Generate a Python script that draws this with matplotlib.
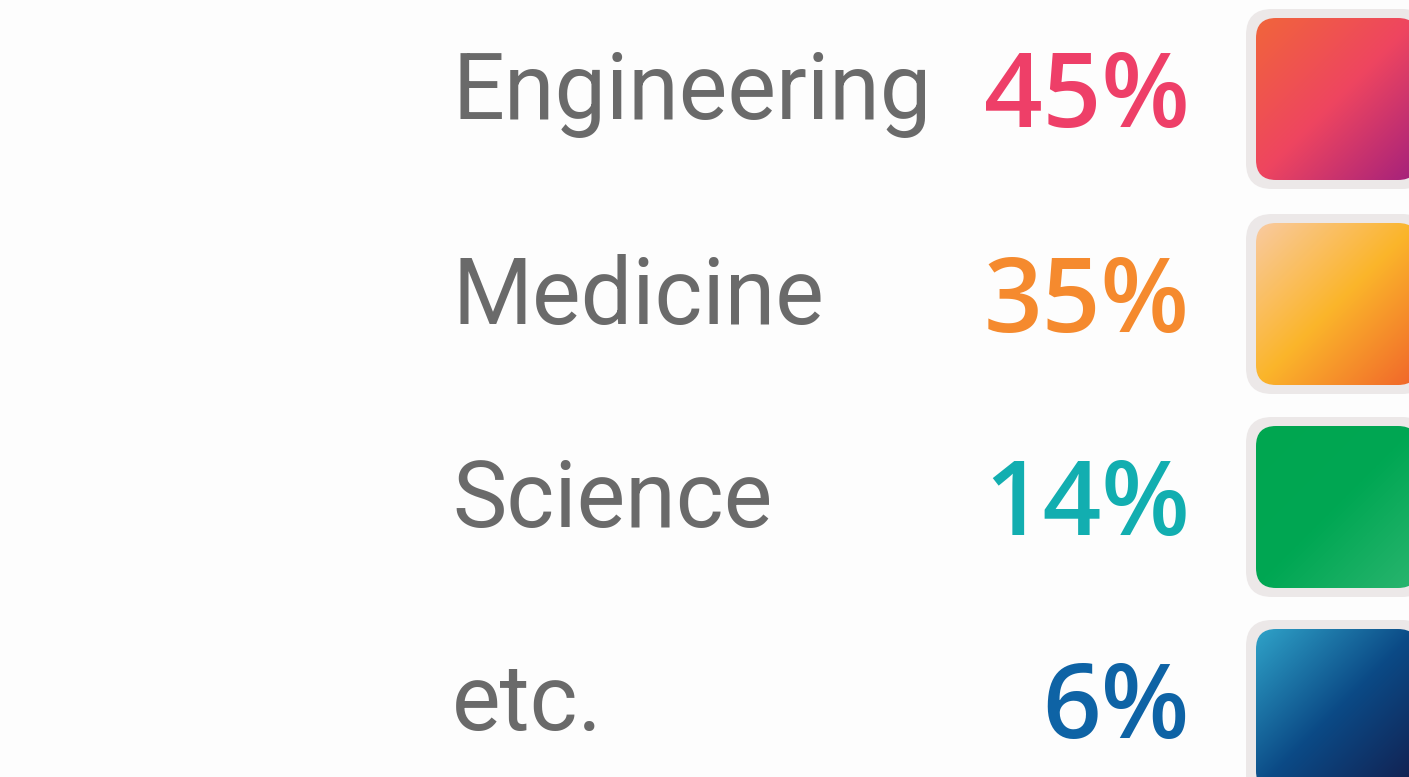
import numpy as np
import matplotlib.pyplot as plt
from matplotlib.patches import FancyBboxPatch
from matplotlib.colors import LinearSegmentedColormap

labels = ['Engineering', 'Medicine', 'Science', 'etc.']
values = [45, 35, 14, 6]
pct_colors = ['#ee3f68', '#f58a2e', '#12aeb0', '#0e63a5']
grad_stops = [
    ['#f1653b', '#ee4560', '#a3207c'],
    ['#f9caa0', '#fbb52a', '#f0642b'],
    ['#00a650', '#00a753', '#2ab56f'],
    ['#2fa2c8', '#0b4a86', '#131d4c'],
]

W, H = 1409, 777
fig = plt.figure(figsize=(W / 100, H / 100), dpi=100)
ax = fig.add_axes([0, 0, 1, 1])
ax.set_xlim(0, W)
ax.set_ylim(H, 0)
ax.axis('off')
fig.patch.set_facecolor('#fdfdfd')

row_top = [18, 223, 426, 629]
box = 162
x0 = 1256

for i in range(len(labels)):
    y0 = row_top[i]
    # outer light frame
    frame = FancyBboxPatch((x0 - 10, y0 - 9), box + 20, box + 18,
                           boxstyle='round,pad=0,rounding_size=26',
                           fc='#ece8e8', ec='none', zorder=1)
    ax.add_patch(frame)
    # gradient square
    clip = FancyBboxPatch((x0, y0), box, box,
                          boxstyle='round,pad=0,rounding_size=20',
                          fc='none', ec='none', zorder=2)
    ax.add_patch(clip)
    n = 200
    gx, gy = np.meshgrid(np.linspace(0, 1, n), np.linspace(0, 1, n))
    g = (gx + gy) / 2
    cmap = LinearSegmentedColormap.from_list('g%d' % i, grad_stops[i])
    im = ax.imshow(g, cmap=cmap, extent=(x0, x0 + box, y0 + box, y0),
                   interpolation='bilinear', zorder=2, aspect='auto')
    im.set_clip_path(clip)

    ax.text(452, y0 + 101, labels[i], ha='left', va='baseline', fontsize=66,
            family='Roboto', color='#6a6a6a', zorder=3)
    ax.text(1190, y0 + 109, '%d%%' % values[i], ha='right', va='baseline',
            fontsize=74, family='Open Sans', fontweight='semibold',
            color=pct_colors[i], zorder=3)

ax.set_xlim(0, W)
ax.set_ylim(H, 0)
plt.savefig('out.png', dpi=100, facecolor=fig.get_facecolor())
